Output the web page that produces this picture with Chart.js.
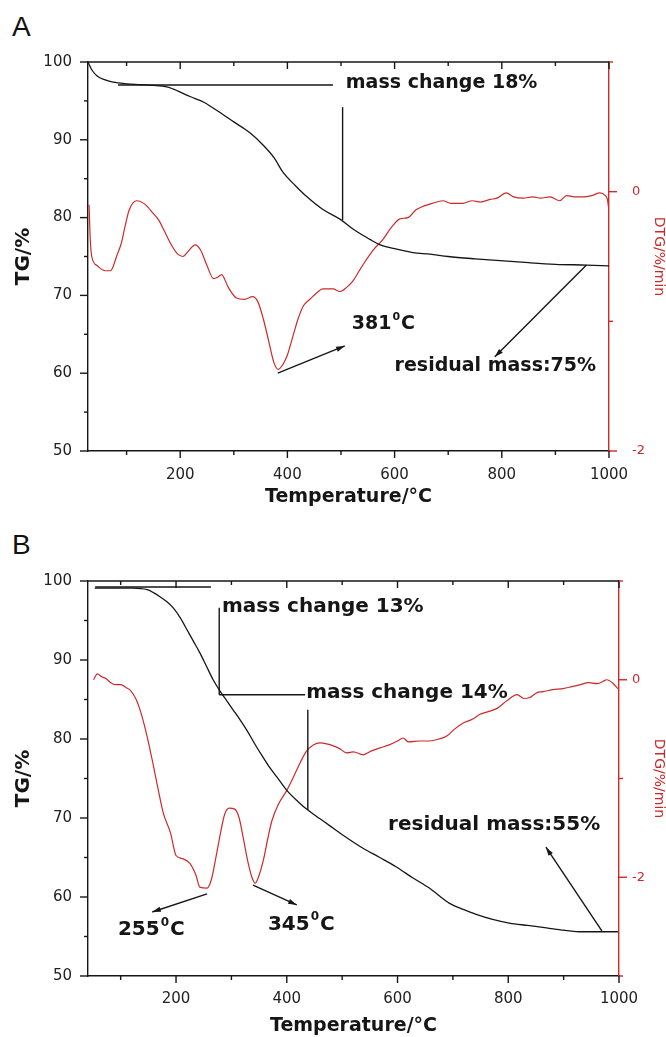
<!DOCTYPE html>
<html>
<head>
<meta charset="utf-8">
<script src="https://cdn.jsdelivr.net/npm/chart.js@4/dist/chart.umd.min.js"></script>
<style>
  html, body { margin: 0; padding: 0; background: #fff; }
  #wrap { position: relative; width: 666px; height: 1037px; overflow: hidden; }
  canvas { position: absolute; left: 0; }
  .tag { position: absolute; left: 12px; font: 28px "Liberation Sans", Arial, sans-serif; line-height: 1; color: #111; }
</style>
</head>
<body>
<div id="wrap">
  <div class="tag" style="top:13px">A</div>
  <canvas id="chartA" width="666" height="518" style="top:0"></canvas>
  <div class="tag" style="top:531px">B</div>
  <canvas id="chartB" width="666" height="519" style="top:518px"></canvas>
</div>
<script>
/* global Chart */

// ---- panel A data ----
const aTgT = [28, 35, 45, 60, 75, 100, 125, 150, 175, 195, 210, 228, 245, 270, 300, 330, 355, 375, 392, 415, 436, 465, 498, 525, 554, 573, 600, 634, 666, 700, 750, 790, 850, 900, 958, 1000]
const aTg = [100, 99.0, 98.2, 97.7, 97.4, 97.2, 97.1, 97.0, 96.8, 96.3, 95.8, 95.3, 94.8, 93.7, 92.3, 90.9, 89.3, 87.7, 85.8, 84.1, 82.7, 81.1, 79.8, 78.4, 77.2, 76.5, 76.0, 75.5, 75.3, 75.0, 74.7, 74.5, 74.2, 74.0, 73.9, 73.8]
const aDtgT = [30, 32, 35, 45, 60, 70, 82, 90, 97, 105, 119, 135, 150, 160, 170, 182, 195, 205, 215, 228, 238, 250, 262, 270, 277, 290, 305, 320, 335, 345, 355, 365, 375, 383, 392, 400, 410, 420, 430, 442, 455, 466, 485, 498, 510, 522, 540, 560, 578, 595, 610, 625, 640, 655, 670, 690, 705, 727, 745, 760, 778, 791, 808, 822, 840, 858, 872, 890, 908, 921, 935, 951, 968, 983, 993, 997, 1000]
const aDtg = [-0.10, -0.35, -0.50, -0.57, -0.61, -0.61, -0.49, -0.40, -0.27, -0.14, -0.07, -0.10, -0.17, -0.22, -0.30, -0.40, -0.48, -0.50, -0.46, -0.41, -0.45, -0.57, -0.67, -0.66, -0.64, -0.74, -0.82, -0.83, -0.81, -0.85, -0.98, -1.15, -1.32, -1.37, -1.33, -1.26, -1.12, -0.98, -0.88, -0.83, -0.78, -0.75, -0.75, -0.77, -0.74, -0.69, -0.57, -0.45, -0.37, -0.27, -0.21, -0.20, -0.14, -0.11, -0.09, -0.07, -0.09, -0.09, -0.07, -0.08, -0.06, -0.05, -0.01, -0.04, -0.05, -0.04, -0.05, -0.04, -0.07, -0.03, -0.04, -0.04, -0.03, -0.01, -0.03, -0.06, -0.15]
const aLines = [[84, 97.05, 485, 97.05], [503, 94.2, 503, 79.7]]
const aArrows = [[382, 60.0, 507, 63.5], [958, 73.9, 787, 62.1]]
const aLabels = [['mass change 18%', 509, 97.3], ['381^0^C', 520, 66.3], ['residual mass:75%', 600, 60.9]]

// ---- panel B data ----
const bTgT = [53, 80, 122, 148, 160, 171, 183, 195, 208, 220, 232, 243, 255, 267, 280, 292, 303, 316, 328, 342, 357, 370, 382, 400, 420, 438, 460, 478, 496, 537, 568, 598, 628, 658, 694, 720, 742, 770, 802, 835, 869, 900, 934, 965, 998]
const bTg = [99.1, 99.1, 99.1, 98.9, 98.5, 98.0, 97.4, 96.6, 95.3, 93.8, 92.3, 90.9, 89.2, 87.5, 86.0, 84.8, 83.7, 82.4, 81.1, 79.4, 77.7, 76.3, 75.2, 73.5, 72.1, 71.0, 69.9, 69.0, 68.1, 66.2, 65.0, 63.8, 62.4, 61.1, 59.2, 58.4, 57.8, 57.2, 56.7, 56.4, 56.1, 55.8, 55.6, 55.6, 55.6]
const bDtgT = [51, 58, 66, 74, 82, 90, 100, 110, 118, 128, 138, 148, 158, 167, 177, 190, 200, 211, 225, 236, 243, 256, 264, 272, 280, 288, 296, 306, 314, 322, 330, 337, 343, 350, 358, 366, 373, 385, 400, 415, 425, 436, 448, 460, 472, 484, 496, 508, 520, 538, 553, 568, 585, 600, 610, 620, 640, 658, 675, 689, 703, 718, 735, 749, 765, 780, 798, 816, 828, 839, 852, 863, 880, 899, 915, 930, 945, 960, 970, 978, 988, 998]
const bDtg = [0.00, 0.06, 0.03, 0.01, -0.03, -0.05, -0.05, -0.08, -0.11, -0.20, -0.36, -0.58, -0.84, -1.09, -1.35, -1.55, -1.78, -1.81, -1.86, -1.98, -2.10, -2.11, -2.02, -1.80, -1.56, -1.36, -1.30, -1.31, -1.40, -1.62, -1.85, -2.00, -2.06, -1.98, -1.82, -1.60, -1.43, -1.26, -1.12, -0.95, -0.83, -0.72, -0.66, -0.64, -0.65, -0.67, -0.70, -0.74, -0.73, -0.76, -0.72, -0.69, -0.66, -0.62, -0.59, -0.63, -0.62, -0.62, -0.60, -0.57, -0.50, -0.44, -0.40, -0.35, -0.32, -0.29, -0.21, -0.15, -0.19, -0.18, -0.13, -0.12, -0.10, -0.09, -0.07, -0.05, -0.03, -0.04, -0.02, 0.00, -0.03, -0.09]
const bLines = [[54, 99.24, 263, 99.24], [278, 96.6, 278, 85.6], [278, 85.6, 433, 85.6], [438, 83.7, 438, 71.0]]
const bArrows = [[256, 60.4, 157, 58.1], [339, 61.5, 418, 59.0], [969, 55.7, 868, 66.3]]
const bLabels = [['mass change 13%', 283, 96.7], ['mass change 14%', 435, 85.8], ['255^0^C', 95, 55.8], ['345^0^C', 366, 56.5], ['residual mass:55%', 583, 69.1]]

const INK = '#161616'
const RED = '#cc2a2a'
Chart.defaults.font.family = '"DejaVu Sans", sans-serif'

const pts = (xs, ys) => xs.map((x, i) => ({ x, y: ys[i] }))

// top frame line, tick marks (major + minor) and the text/arrow notes
const frame = {
  id: 'frame',
  afterDraw (chart, args, o) {
    const { ctx, chartArea: a, scales: { x, y, y1 } } = chart
    const px = v => x.getPixelForValue(v)
    const py = v => y.getPixelForValue(v)
    const seg = (x1, y1_, x2, y2) => { ctx.beginPath(); ctx.moveTo(x1, y1_); ctx.lineTo(x2, y2); ctx.stroke() }
    ctx.save()
    ctx.lineWidth = 1.4
    ctx.strokeStyle = INK
    seg(a.left, a.top, a.right, a.top)
    x.ticks.forEach(t => {
      if (t.value < x.min || t.value > x.max) return
      const p = px(t.value)
      const len = t.value % 200 === 0 ? 7 : 4
      seg(p, a.bottom, p, a.bottom + len)
      seg(p, a.top, p, a.top + len)
    })
    y.ticks.forEach(t => {
      const p = py(t.value)
      seg(a.left - (t.value % 10 === 0 ? 8 : 4), p, a.left, p)
    })
    ctx.strokeStyle = RED
    y1.ticks.forEach(t => {
      const p = y1.getPixelForValue(t.value)
      seg(a.right, p, a.right + (t.value % 2 === 0 ? 8 : 4), p)
    })

    // notes
    ctx.strokeStyle = INK
    ctx.fillStyle = INK
    ctx.lineWidth = 1.4
    o.lines.forEach(([x1, v1, x2, v2]) => seg(px(x1), py(v1), px(x2), py(v2)))
    o.arrows.forEach(([x1, v1, x2, v2]) => {
      const X1 = px(x1); const Y1 = py(v1); const X2 = px(x2); const Y2 = py(v2)
      const ang = Math.atan2(Y2 - Y1, X2 - X1)
      seg(X1, Y1, X2, Y2)
      ctx.beginPath()
      ctx.moveTo(X2, Y2)
      ctx.lineTo(X2 - 9 * Math.cos(ang - 0.3), Y2 - 9 * Math.sin(ang - 0.3))
      ctx.lineTo(X2 - 9 * Math.cos(ang + 0.3), Y2 - 9 * Math.sin(ang + 0.3))
      ctx.closePath()
      ctx.fill()
    })
    ctx.textBaseline = 'middle'
    ctx.textAlign = 'left'
    const big = `bold ${o.size}px "DejaVu Sans", sans-serif`
    const small = `bold ${Math.round(o.size * 0.6)}px "DejaVu Sans", sans-serif`
    o.labels.forEach(([txt, tx, tv]) => {
      let X = px(tx)
      const Y = py(tv)
      txt.split('^').forEach((part, i) => {
        const sup = i === 1
        ctx.font = sup ? small : big
        ctx.fillText(part, X + (sup ? 1 : 0), sup ? Y - o.size * 0.38 : Y)
        X += ctx.measureText(part).width + (sup ? 2 : 0)
      })
    })
    ctx.restore()
  }
}

function build (id, p) {
  return new Chart(document.getElementById(id), {
    type: 'line',
    data: {
      datasets: [
        { data: pts(p.tgT, p.tg), yAxisID: 'y', borderColor: INK, borderWidth: 1.3, pointRadius: 0, cubicInterpolationMode: 'monotone' },
        { data: pts(p.dtgT, p.dtg), yAxisID: 'y1', borderColor: RED, borderWidth: 1.2, pointRadius: 0, cubicInterpolationMode: 'monotone' }
      ]
    },
    options: {
      responsive: false,
      animation: false,
      events: [],
      layout: { padding: { top: p.top, left: 0, right: 0, bottom: 0 } },
      plugins: {
        legend: { display: false },
        tooltip: { enabled: false },
        frame: { lines: p.lines, arrows: p.arrows, labels: p.labels, size: p.noteSize }
      },
      scales: {
        x: {
          type: 'linear',
          min: p.xMin,
          max: 1000,
          grid: { display: false, drawTicks: false },
          border: { color: INK, width: 1.4 },
          ticks: { stepSize: 100, includeBounds: false, autoSkip: false, maxRotation: 0, padding: p.xPad, color: '#222', font: { size: 15 }, callback: v => v % 200 === 0 ? v : '' },
          title: { display: true, text: 'Temperature/°C', color: INK, font: { size: 19, weight: 'bold' }, padding: { top: 0, bottom: p.titlePad } },
          afterFit: s => { s.height = p.xH }
        },
        y: {
          position: 'left',
          min: 50,
          max: 100,
          grid: { display: false, drawTicks: false },
          border: { color: INK, width: 1.4 },
          ticks: { stepSize: 5, includeBounds: false, autoSkip: false, padding: 16, color: '#222', font: { size: 15 }, callback: v => v % 10 === 0 ? v : '' },
          title: { display: true, text: 'TG/%', color: INK, font: { size: 20, weight: 'bold' }, padding: { top: 12, bottom: 0 } },
          afterFit: s => { s.width = 88 }
        },
        y1: {
          position: 'right',
          min: p.dMin,
          max: 1,
          grid: { display: false, drawTicks: false },
          border: { color: RED, width: 1.4 },
          ticks: { stepSize: 1, includeBounds: false, autoSkip: false, padding: p.y1Pad, color: RED, font: { size: 13 }, callback: v => v % 2 === 0 ? v : '' },
          title: { display: true, text: 'DTG/%/min', color: RED, font: { size: 14, lineHeight: 1 }, padding: { top: 0, bottom: 0 } },
          afterFit: s => { s.width = p.y1W }
        }
      }
    },
    plugins: [frame]
  })
}

build('chartA', {
  tgT: aTgT, tg: aTg, dtgT: aDtgT, dtg: aDtg,
  lines: aLines, arrows: aArrows, labels: aLabels, noteSize: 19,
  xMin: 28, dMin: -2, top: 62, xH: 67, xPad: 15, titlePad: 10, y1W: 57, y1Pad: 23
})

build('chartB', {
  tgT: bTgT, tg: bTg, dtgT: bDtgT, dtg: bDtg,
  lines: bLines, arrows: bArrows, labels: bLabels, noteSize: 20,
  xMin: 41, dMin: -3, top: 63, xH: 61, xPad: 14, titlePad: 0, y1W: 47, y1Pad: 13
})
</script>
</body>
</html>
